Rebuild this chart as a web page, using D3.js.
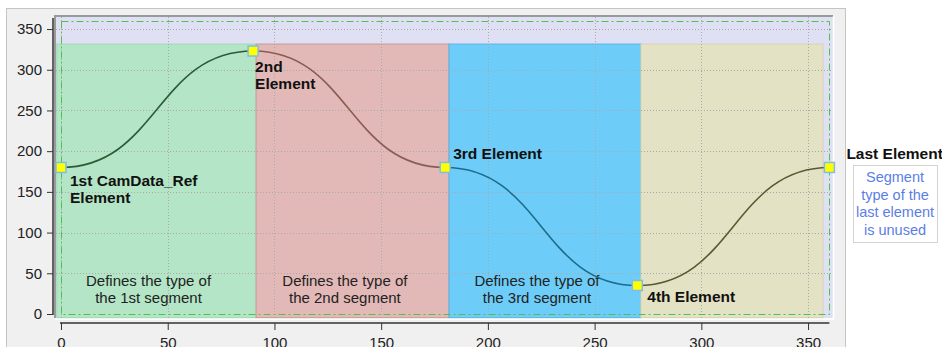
<!DOCTYPE html>
<html>
<head>
<meta charset="utf-8">
<script src="https://cdn.jsdelivr.net/npm/d3@7"></script>
<style>
  body { margin: 0; background: #fff; }
  svg { display: block; font-family: "Liberation Sans", Arial, sans-serif; }
</style>
</head>
<body>
<svg width="942" height="347"></svg>
<script>
// cam elements (master position, slave position)
var elemX = [0, 90, 180, 270, 360];
var elemY = [180, 323, 180, 35, 180];

// coloured segment areas
var segFrom = [-2, 91.4, 181.8, 271.7];
var segTo = [91.4, 181.8, 271.7, 357];
var segTop = 331.6;
var segBottom = -4.5;
var segFill = ["#b3e5c6", "#e3b9b8", "#6dcdf8", "#e4e2c4"];
var segEdge = ["#a4d8b8", "#c99a98", "#58b4e8", "#d6d4b4"];
var curveColor = ["#2e5a36", "#8a5c52", "#1c6d8c", "#5a5a30"];
var segText = [
  ["Defines the type of", "the 1st segment"],
  ["Defines the type of", "the 2nd segment"],
  ["Defines the type of", "the 3rd segment"]
];
var segTextX = [41, 133, 223];

var xTicks = [0, 50, 100, 150, 200, 250, 300, 350];
var yTicks = [0, 50, 100, 150, 200, 250, 300, 350];

var svg = d3.select("svg");

var x = d3.scaleLinear().domain([0, 360]).range([61, 829.4]);
var y = d3.scaleLinear().domain([0, 360]).range([314, 20.9]);

// outer panel
svg.append("rect")
  .attr("x", 6.5).attr("y", 8.5)
  .attr("width", 839).attr("height", 360)
  .attr("fill", "#f0f0f0")
  .attr("stroke", "#c4c4c4");

// plot area
svg.append("rect")
  .attr("x", 55).attr("y", 16)
  .attr("width", 778).attr("height", 302)
  .attr("fill", "#e0e0f5");
svg.append("path")
  .attr("d", "M55,318V16H833")
  .attr("fill", "none").attr("stroke", "#9a9a9a").attr("stroke-width", 2);
svg.append("path")
  .attr("d", "M55,319H833.5V16")
  .attr("fill", "none").attr("stroke", "#fff").attr("stroke-width", 1.5);

// segments
svg.append("g")
  .selectAll("rect")
  .data(segFrom)
  .enter()
  .append("rect")
  .attr("x", function (d) { return x(d); })
  .attr("y", y(segTop))
  .attr("width", function (d, i) { return x(segTo[i]) - x(d); })
  .attr("height", y(segBottom) - y(segTop))
  .attr("fill", function (d, i) { return segFill[i]; })
  .attr("stroke", function (d, i) { return segEdge[i]; });

// grid
var grid = svg.append("g")
  .attr("stroke", "#a9a9a9")
  .attr("stroke-dasharray", "1,2")
  .attr("stroke-width", 1);
grid.selectAll("line.gx")
  .data(xTicks)
  .enter()
  .append("line")
  .attr("x1", function (d) { return Math.round(x(d)) + 0.5; })
  .attr("x2", function (d) { return Math.round(x(d)) + 0.5; })
  .attr("y1", 17).attr("y2", 318);
grid.selectAll("line.gy")
  .data(yTicks.slice(1))
  .enter()
  .append("line")
  .attr("y1", function (d) { return Math.round(y(d)) + 0.5; })
  .attr("y2", function (d) { return Math.round(y(d)) + 0.5; })
  .attr("x1", 56).attr("x2", 833);

// green limit frame
svg.append("rect")
  .attr("x", Math.round(x(0)) + 0.5)
  .attr("y", Math.round(y(360)) + 0.5)
  .attr("width", Math.round(x(360)) - Math.round(x(0)))
  .attr("height", Math.round(y(0)) - Math.round(y(360)))
  .attr("fill", "none")
  .attr("stroke", "#4cc44c")
  .attr("stroke-dasharray", "7,3,2,3");

// segment descriptions
segText.forEach(function (lines, i) {
  var t = svg.append("text")
    .attr("x", x(segTextX[i]))
    .attr("y", 286)
    .attr("text-anchor", "middle")
    .style("font-size", "15px")
    .style("fill", "#222");
  lines.forEach(function (s, j) {
    t.append("tspan")
      .attr("x", x(segTextX[i]))
      .attr("dy", j === 0 ? 0 : 17)
      .text(s);
  });
});

// cam curve, one path per segment
var line = d3.line()
  .x(function (d) { return x(d[0]); })
  .y(function (d) { return y(d[1]); })
  .curve(d3.curveBumpX);

for (var i = 0; i < elemX.length - 1; i++) {
  svg.append("path")
    .datum([[elemX[i], elemY[i]], [elemX[i + 1], elemY[i + 1]]])
    .attr("d", line)
    .attr("fill", "none")
    .attr("stroke", curveColor[i])
    .attr("stroke-width", 1.6);
}

// element markers
svg.append("g")
  .selectAll("rect")
  .data(elemX)
  .enter()
  .append("rect")
  .attr("x", function (d) { return x(d) - 5; })
  .attr("y", function (d, i) { return y(elemY[i]) - 5; })
  .attr("width", 10).attr("height", 10)
  .attr("fill", "#ffff00")
  .attr("stroke", "#7fbde6")
  .attr("stroke-width", 1.5);

// axes
var yAxis = svg.append("g").attr("transform", "translate(53,0)");
yAxis.call(d3.axisLeft(y).tickValues(d3.range(0, 361, 10)).tickSize(4).tickFormat(""));
yAxis.call(d3.axisLeft(y).tickValues(yTicks).tickSize(6).tickPadding(5));
yAxis.selectAll(".domain").remove();
yAxis.append("line")
  .attr("x1", 0).attr("x2", 0)
  .attr("y1", y(0) + 1).attr("y2", 18)
  .attr("stroke", "#333").attr("stroke-width", 1.5);
yAxis.selectAll("line").attr("stroke", "#333");
yAxis.selectAll("text")
  .style("font-size", "15px")
  .style("font-family", "Liberation Sans, Arial, sans-serif")
  .attr("fill", "#222");

var xAxis = svg.append("g").attr("transform", "translate(0,323)");
xAxis.call(d3.axisBottom(x).tickValues(d3.range(0, 361, 10)).tickSize(4).tickFormat(""));
xAxis.call(d3.axisBottom(x).tickValues(xTicks).tickSize(7).tickPadding(7));
xAxis.selectAll(".domain").remove();
xAxis.append("line")
  .attr("x1", x(0) - 1).attr("x2", x(360))
  .attr("stroke", "#555").attr("stroke-width", 1.5);
xAxis.selectAll("line").attr("stroke", "#333");
xAxis.selectAll("text")
  .style("font-size", "15px")
  .style("font-family", "Liberation Sans, Arial, sans-serif")
  .attr("fill", "#222");

// element labels
function label(lines, px, py) {
  var t = svg.append("text")
    .attr("x", px).attr("y", py)
    .style("font-size", "15.5px")
    .style("font-weight", "bold")
    .style("fill", "#111");
  lines.forEach(function (s, j) {
    t.append("tspan").attr("x", px).attr("dy", j === 0 ? 0 : 17).text(s);
  });
}
label(["1st CamData_Ref", "Element"], x(elemX[0]) + 9, y(elemY[0]) + 19);
label(["2nd", "Element"], x(elemX[1]) + 2, y(elemY[1]) + 21);
label(["3rd Element"], x(elemX[2]) + 8, y(elemY[2]) - 8);
label(["4th Element"], x(elemX[3]) + 10, y(elemY[3]) + 16);
label(["Last Element"], x(elemX[4]) + 17, y(elemY[4]) - 8);

// note box
svg.append("rect")
  .attr("x", 853.5).attr("y", 165.5)
  .attr("width", 84).attr("height", 77)
  .attr("fill", "#fff")
  .attr("stroke", "#d4d4d4");
var note = ["Segment", "type of the", "last element", "is unused"];
svg.append("g")
  .selectAll("text")
  .data(note)
  .enter()
  .append("text")
  .attr("x", 895)
  .attr("y", function (d, i) { return 182 + i * 17.5; })
  .attr("text-anchor", "middle")
  .style("font-size", "14.5px")
  .style("fill", "#5a7ee6")
  .text(function (d) { return d; });
</script>
</body>
</html>
